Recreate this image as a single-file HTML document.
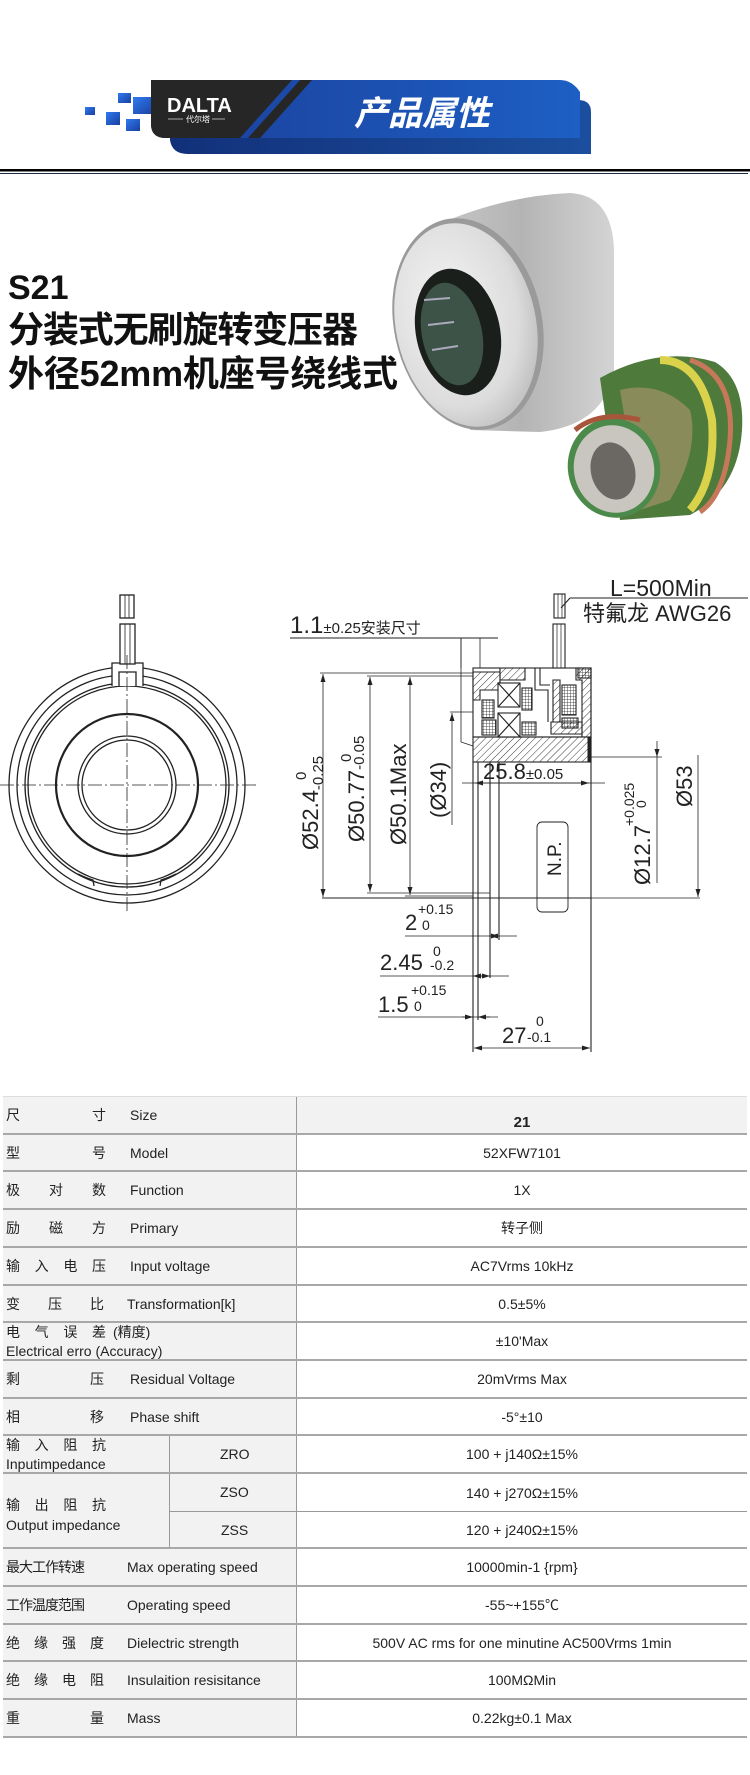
<!DOCTYPE html>
<html><head><meta charset="utf-8">
<style>
html,body{margin:0;padding:0;background:#fff;}
body{width:750px;height:1775px;position:relative;overflow:hidden;font-family:"Liberation Sans","Noto Sans CJK SC",sans-serif;}
.abs{position:absolute;}
.row{position:absolute;left:3px;width:744px;border-bottom:2px solid #a8a8a8;box-sizing:border-box;}
.lab{position:absolute;left:0;top:0;bottom:0;width:293px;background:#f2f2f2;border-right:1px solid #999;}
.val{position:absolute;left:294px;right:0;top:0;bottom:0;display:flex;align-items:center;justify-content:center;font-size:14px;color:#222;}
.t{position:absolute;font-size:14px;color:#222;white-space:nowrap;line-height:16px;}
.cj{position:absolute;left:3px;width:100px;display:flex;justify-content:space-between;font-size:14px;color:#222;line-height:16px;}
</style></head><body>
<svg class="abs" style="left:0;top:0" width="750" height="1090" viewBox="0 0 750 1090" xmlns="http://www.w3.org/2000/svg">
<defs>
<linearGradient id="bl" x1="0" x2="1"><stop offset="0" stop-color="#1b3f9a"/><stop offset="1" stop-color="#1d5fc4"/></linearGradient>
<linearGradient id="bl2" x1="0" x2="1"><stop offset="0" stop-color="#12307a"/><stop offset="1" stop-color="#1b4f9e"/></linearGradient>
<linearGradient id="sq" x1="0" x2="1" y1="0" y2="1"><stop offset="0" stop-color="#2f7bef"/><stop offset="1" stop-color="#1a3fa0"/></linearGradient>
<linearGradient id="silv" x1="0" x2="1" y1="0" y2="0"><stop offset="0" stop-color="#c8c8c8"/><stop offset="0.5" stop-color="#b4b4b4"/><stop offset="1" stop-color="#d4d4d4"/></linearGradient>
<radialGradient id="face" cx="0.4" cy="0.4" r="0.7"><stop offset="0" stop-color="#f4f4f4"/><stop offset="0.7" stop-color="#dcdcdc"/><stop offset="1" stop-color="#b8b8b8"/></radialGradient>
<pattern id="h" width="5" height="5" patternUnits="userSpaceOnUse" patternTransform="rotate(45)"><line x1="0" y1="0" x2="0" y2="5" stroke="#222" stroke-width="0.9"/></pattern>
<pattern id="x" width="3" height="3" patternUnits="userSpaceOnUse"><path d="M0 0H3M0 0V3" stroke="#222" stroke-width="0.8"/></pattern>
<marker id="a" markerWidth="8" markerHeight="6" refX="8" refY="3" orient="auto-start-reverse" markerUnits="userSpaceOnUse"><path d="M0,0.5 L8,3 L0,5.5z" fill="#222"/></marker>
</defs>
<!-- header -->
<rect x="85" y="107" width="10" height="8" fill="url(#sq)"/>
<rect x="106" y="112" width="14" height="13" fill="url(#sq)"/>
<rect x="118" y="93" width="13" height="10" fill="url(#sq)"/>
<rect x="126" y="119" width="14" height="12" fill="url(#sq)"/>
<rect x="133" y="97" width="22" height="17" fill="url(#sq)"/>
<path d="M170 100 H578 Q591 100 591 112 V154 H188 Q172 154 170 140Z" fill="url(#bl2)"/>
<path d="M151 80 H560 Q572 80 580 92 V138 H166 Q151 138 151 124Z" fill="url(#bl)"/>
<path d="M151 80 H285 L233 138 H166 Q151 138 151 124Z" fill="#262626"/>
<path d="M280 80 H292 L240 138 H228Z" fill="#262626"/>
<path d="M300 80 H312 L260 138 H248Z" fill="#262626"/>
<text x="167" y="112" fill="#fff" font-family="Liberation Sans" font-weight="bold" font-size="20">DALTA</text>
<line x1="168" y1="119" x2="183" y2="119" stroke="#ccc" stroke-width="0.8"/><line x1="212" y1="119" x2="225" y2="119" stroke="#ccc" stroke-width="0.8"/>
<text x="186" y="122" fill="#fff" font-family="Noto Sans CJK SC" font-size="8">代尔塔</text>
<text x="354" y="125" fill="#fff" font-family="Noto Sans CJK SC,sans-serif" font-weight="bold" font-style="italic" font-size="34">产品属性</text>
<rect x="0" y="169" width="750" height="2.5" fill="#000"/>
<rect x="0" y="173" width="748" height="1" fill="#1a2a44"/>
<!-- title -->
<text x="8" y="299" font-family="Liberation Sans,Noto Sans CJK SC,sans-serif" font-weight="bold" font-size="34" fill="#111">S21</text>
<text x="8" y="342" font-family="Noto Sans CJK SC,sans-serif" font-weight="bold" font-size="36" fill="#111" textLength="350">分装式无刷旋转变压器</text>
<text x="8" y="386" font-family="Liberation Sans,Noto Sans CJK SC,sans-serif" font-weight="bold" font-size="36" fill="#111" textLength="390">外径52mm机座号绕线式</text>
<!-- product photo -->
<path d="M430 228 Q500 196 570 193 Q612 195 614 250 L614 370 Q605 425 540 432 L470 430Z" fill="url(#silv)"/>
<ellipse cx="468" cy="324" rx="74" ry="107" transform="rotate(-12 468 324)" fill="#9a9a9a"/>
<ellipse cx="466" cy="325" rx="70" ry="103" transform="rotate(-12 466 325)" fill="url(#face)"/>
<ellipse cx="458" cy="332" rx="42" ry="64" transform="rotate(-12 458 332)" fill="#1a1f1c"/>
<ellipse cx="452" cy="334" rx="30" ry="52" transform="rotate(-12 452 334)" fill="#3d5348"/>
<g stroke="#aab" stroke-width="2"><line x1="424" y1="300" x2="450" y2="298"/><line x1="428" y1="325" x2="454" y2="322"/><line x1="432" y1="350" x2="458" y2="346"/></g>
<path d="M600 378 Q660 345 715 362 Q745 380 742 430 Q738 490 690 515 L620 520Z" fill="#4e7a3c"/>
<path d="M660 360 Q700 360 712 420 Q716 480 690 510" stroke="#d9d24a" stroke-width="8" fill="none"/>
<path d="M690 360 Q735 375 730 440 Q725 495 700 512" stroke="#c8785a" stroke-width="5" fill="none"/>
<path d="M620 390 Q660 380 690 410 Q700 450 670 500 L640 510 Z" fill="#8a8b5a"/>
<ellipse cx="614" cy="468" rx="46" ry="50" transform="rotate(-15 614 468)" fill="#4b8a4a"/>
<ellipse cx="614" cy="469" rx="40" ry="44" transform="rotate(-15 614 469)" fill="#c9c6c0"/>
<ellipse cx="613" cy="471" rx="22" ry="29" transform="rotate(-15 613 471)" fill="#6b6864"/>
<path d="M575 430 Q600 410 640 420" stroke="#a8553a" stroke-width="5" fill="none"/>
<!-- left drawing -->
<g fill="none" stroke="#222" stroke-width="1.3">
<circle cx="127" cy="785" r="118"/>
<circle cx="127" cy="785" r="110"/>
<circle cx="127" cy="785" r="102"/>
<circle cx="127" cy="785" r="99"/>
<circle cx="127" cy="785" r="71" stroke-width="2.2"/>
<circle cx="127" cy="785" r="49"/>
<circle cx="127" cy="785" r="45"/>
<path d="M112 686 V663 H143 V686" fill="#fff"/>
<path d="M119 686 V672 H136 V686" fill="#fff"/>
<rect x="120" y="624" width="15" height="40" fill="#fff"/>
<line x1="125" y1="624" x2="125" y2="664" stroke-width="0.8"/><line x1="130" y1="624" x2="130" y2="664" stroke-width="0.8"/>
<rect x="120" y="595" width="14" height="23" fill="#fff"/>
<line x1="125" y1="595" x2="125" y2="618" stroke-width="0.8"/><line x1="129" y1="595" x2="129" y2="618" stroke-width="0.8"/>
<path d="M78 874 Q86 878 93 880 L94 886"/><path d="M176 874 Q168 878 161 880 L160 886"/>
</g>
<g stroke="#222" stroke-width="0.8" stroke-dasharray="14 3 2 3"><line x1="0" y1="785" x2="258" y2="785"/><line x1="127" y1="655" x2="127" y2="912"/></g>
<!-- right drawing -->
<g fill="none" stroke="#222" stroke-width="1.1">
<rect x="473" y="668" width="118" height="69" fill="#fff"/>
<path d="M473 672 H500 V690 H480 V700 H473Z" fill="url(#h)"/>
<path d="M500 668 H525 V680 H500Z" fill="url(#h)"/>
<path d="M576 668 H591 V737 H582 V680 H576Z" fill="url(#h)"/>
<path d="M553 680 H560 V722 H553Z" fill="url(#h)"/>
<path d="M551 722 H582 V734 H551Z" fill="url(#h)"/>
<rect x="498" y="683" width="22" height="24" fill="#fff"/>
<path d="M498 683 L509 695 L520 683 M498 707 L509 695 L520 707"/>
<rect x="498" y="713" width="22" height="24" fill="#fff"/>
<path d="M498 713 L509 725 L520 713 M498 737 L509 725 L520 737"/>
<rect x="482" y="700" width="12" height="18" fill="url(#x)"/>
<rect x="482" y="720" width="14" height="15" fill="url(#x)"/>
<rect x="522" y="688" width="10" height="22" fill="url(#x)"/>
<rect x="522" y="722" width="14" height="13" fill="url(#x)"/>
<rect x="562" y="685" width="14" height="30" fill="url(#x)"/>
<rect x="562" y="718" width="16" height="10" fill="url(#x)"/>
<rect x="578" y="668" width="13" height="10" fill="url(#x)"/>
<path d="M535 668 V690 H548 V722"/><path d="M540 668 V685 H550"/>
<rect x="473" y="737" width="118" height="25" fill="url(#h)"/>
<line x1="589" y1="737" x2="589" y2="762" stroke-width="3"/>
<rect x="553" y="624" width="12" height="44" fill="#fff"/>
<line x1="557" y1="624" x2="557" y2="668" stroke-width="0.7"/><line x1="561" y1="624" x2="561" y2="668" stroke-width="0.7"/>
<rect x="554" y="594" width="11" height="24" fill="#fff"/>
<line x1="558" y1="594" x2="558" y2="618" stroke-width="0.7"/><line x1="562" y1="594" x2="562" y2="618" stroke-width="0.7"/>
<line x1="561" y1="608" x2="570" y2="598"/>
<line x1="570" y1="598" x2="748" y2="598"/>
<line x1="290" y1="638" x2="498" y2="638"/>
<line x1="461" y1="638" x2="461" y2="668" stroke-width="0.8"/>
<line x1="480" y1="638" x2="480" y2="668" stroke-width="0.8"/>
<path d="M461 638 V742 L473 746" stroke-width="0.8"/>
<line x1="320" y1="673" x2="473" y2="673" stroke-width="0.8"/>
<line x1="367" y1="676" x2="473" y2="676" stroke-width="0.8"/>
<line x1="322" y1="898" x2="591" y2="898"/>
<line x1="367" y1="893" x2="490" y2="893" stroke-width="0.8"/>
<line x1="405" y1="896" x2="473" y2="896" stroke-width="0.8"/>
<line x1="323" y1="674" x2="323" y2="897" marker-start="url(#a)" marker-end="url(#a)" stroke-width="0.8"/>
<line x1="370" y1="677" x2="370" y2="892" marker-start="url(#a)" marker-end="url(#a)" stroke-width="0.8"/>
<line x1="410" y1="677" x2="410" y2="895" marker-start="url(#a)" marker-end="url(#a)" stroke-width="0.8"/>
<line x1="450" y1="712" x2="473" y2="712" stroke-width="0.8"/>
<line x1="452" y1="713" x2="452" y2="825" marker-start="url(#a)" stroke-width="0.8"/>
<line x1="473" y1="762" x2="473" y2="1052"/>
<line x1="478" y1="762" x2="478" y2="1020"/>
<line x1="490" y1="762" x2="490" y2="978"/>
<line x1="499" y1="762" x2="499" y2="940"/>
<line x1="591" y1="737" x2="591" y2="1052"/>
<line x1="462" y1="783" x2="605" y2="783" stroke-width="0.8"/>
<line x1="475" y1="783" x2="589" y2="783" marker-start="url(#a)" marker-end="url(#a)" stroke-width="0.8"/>
<rect x="537" y="822" width="31" height="90" rx="5" fill="#fff" stroke-width="0.9"/>
<line x1="537" y1="898" x2="568" y2="898"/>
<line x1="591" y1="757" x2="662" y2="757" stroke-width="0.8"/>
<line x1="657" y1="741" x2="657" y2="757" marker-end="url(#a)" stroke-width="0.8"/>
<line x1="657" y1="757" x2="657" y2="883" stroke-width="0.8"/>
<line x1="698" y1="755" x2="698" y2="897" marker-end="url(#a)" stroke-width="0.8"/>
<line x1="591" y1="898" x2="700" y2="898" stroke-width="0.8"/>
<line x1="405" y1="936" x2="517" y2="936" stroke-width="0.8"/>
<line x1="490" y1="936" x2="499" y2="936" marker-start="url(#a)" marker-end="url(#a)" stroke-width="0.8"/>
<line x1="380" y1="976" x2="509" y2="976" stroke-width="0.8"/>
<line x1="473" y1="976" x2="490" y2="976" marker-start="url(#a)" marker-end="url(#a)" stroke-width="0.8"/>
<line x1="378" y1="1017" x2="498" y2="1017" stroke-width="0.8"/>
<line x1="462" y1="1017" x2="473" y2="1017" marker-end="url(#a)" stroke-width="0.8"/>
<line x1="478" y1="1017" x2="490" y2="1017" marker-start="url(#a)" stroke-width="0.8"/>
<line x1="474" y1="1048" x2="590" y2="1048" marker-start="url(#a)" marker-end="url(#a)" stroke-width="0.8"/>
</g>
<g font-family="Liberation Sans,Noto Sans CJK SC,sans-serif" fill="#222">
<text x="610" y="596" font-size="23">L=500Min</text>
<text x="583" y="621" font-size="22">特氟龙 AWG26</text>
<text x="290" y="633" font-size="24">1.1<tspan font-size="15">±0.25安装尺寸</tspan></text>
<text transform="translate(318 850) rotate(-90)" font-size="22">Ø52.4<tspan font-size="15" dy="5">-0.25</tspan></text>
<text transform="translate(306 780) rotate(-90)" font-size="15">0</text>
<text transform="translate(364 842) rotate(-90)" font-size="22">Ø50.77<tspan font-size="15">-0.05</tspan></text>
<text transform="translate(351 762) rotate(-90)" font-size="15">0</text>
<text transform="translate(406 845) rotate(-90)" font-size="22">Ø50.1Max</text>
<text transform="translate(446 818) rotate(-90)" font-size="22">(Ø34)</text>
<text x="483" y="779" font-size="22">25.8<tspan font-size="15">±0.05</tspan></text>
<text transform="translate(561 876) rotate(-90)" font-size="19">N.P.</text>
<text transform="translate(650 885) rotate(-90)" font-size="22">Ø12.7</text>
<text transform="translate(634 826) rotate(-90)" font-size="14">+0.025</text>
<text transform="translate(646 808) rotate(-90)" font-size="14">0</text>
<text transform="translate(692 807) rotate(-90)" font-size="22">Ø53</text>
<text x="405" y="930" font-size="22">2</text><text x="418" y="914" font-size="14">+0.15</text><text x="422" y="930" font-size="14">0</text>
<text x="380" y="970" font-size="22">2.45</text><text x="433" y="956" font-size="14">0</text><text x="430" y="970" font-size="14">-0.2</text>
<text x="378" y="1012" font-size="22">1.5</text><text x="411" y="995" font-size="14">+0.15</text><text x="414" y="1011" font-size="14">0</text>
<text x="502" y="1043" font-size="22">27</text><text x="536" y="1026" font-size="14">0</text><text x="527" y="1042" font-size="14">-0.1</text>
</g>
</svg>

<!-- table -->
<div class="abs" style="left:3px;top:1096px;width:744px;height:1px;background:#ddd"></div>
<div class="row" style="top:1097px;height:38px"><div class="lab"></div><div class="val" style="background:#f2f2f2;padding-top:14px;font-weight:bold;font-size:15px">21</div>
<div class="cj" style="top:10px"><span>尺</span><span>寸</span></div><span class="t" style="left:127px;top:10px">Size</span></div>
<div class="row" style="top:1135px;height:37px"><div class="lab"></div><div class="val">52XFW7101</div>
<div class="cj" style="top:10px"><span>型</span><span>号</span></div><span class="t" style="left:127px;top:10px">Model</span></div>
<div class="row" style="top:1172px;height:38px"><div class="lab"></div><div class="val">1X</div>
<div class="cj" style="top:10px"><span>极</span><span>对</span><span>数</span></div><span class="t" style="left:127px;top:10px">Function</span></div>
<div class="row" style="top:1210px;height:38px"><div class="lab"></div><div class="val">转子侧</div>
<div class="cj" style="top:10px"><span>励</span><span>磁</span><span>方</span></div><span class="t" style="left:127px;top:10px">Primary</span></div>
<div class="row" style="top:1248px;height:38px"><div class="lab"></div><div class="val">AC7Vrms 10kHz</div>
<div class="cj" style="top:10px"><span>输</span><span>入</span><span>电</span><span>压</span></div><span class="t" style="left:127px;top:10px">Input voltage</span></div>
<div class="row" style="top:1286px;height:37px"><div class="lab"></div><div class="val">0.5±5%</div>
<div class="cj" style="top:10px;width:98px"><span>变</span><span>压</span><span>比</span></div><span class="t" style="left:124px;top:10px">Transformation[k]</span></div>
<div class="row" style="top:1323px;height:38px"><div class="lab"></div><div class="val">±10'Max</div>
<div class="cj" style="top:1px"><span>电</span><span>气</span><span>误</span><span>差</span></div><span class="t" style="left:110px;top:1px">(精度)</span><span class="t" style="left:3px;top:20px">Electrical erro (Accuracy)</span></div>
<div class="row" style="top:1361px;height:38px"><div class="lab"></div><div class="val">20mVrms Max</div>
<div class="cj" style="top:10px;width:98px"><span>剩</span><span>压</span></div><span class="t" style="left:127px;top:10px">Residual Voltage</span></div>
<div class="row" style="top:1399px;height:37px"><div class="lab"></div><div class="val">-5°±10</div>
<div class="cj" style="top:10px;width:98px"><span>相</span><span>移</span></div><span class="t" style="left:127px;top:10px">Phase shift</span></div>
<div class="row" style="top:1436px;height:38px"><div class="lab"></div><div class="abs" style="left:166px;top:0;bottom:0;width:1px;background:#999"></div><div class="val">100 + j140Ω±15%</div>
<div class="cj" style="top:1px;width:100px"><span>输</span><span>入</span><span>阻</span><span>抗</span></div><span class="t" style="left:3px;top:20px">Inputimpedance</span><span class="t" style="left:217px;top:10px">ZRO</span></div>
<div class="row" style="top:1474px;height:38px;border-bottom:1px solid #999"><div class="lab"></div><div class="abs" style="left:166px;top:0;bottom:0;width:1px;background:#999"></div><div class="val">140 + j270Ω±15%</div><span class="t" style="left:217px;top:10px">ZSO</span></div>
<div class="row" style="top:1512px;height:37px"><div class="lab"></div><div class="abs" style="left:166px;top:0;bottom:0;width:1px;background:#999"></div><div class="val">120 + j240Ω±15%</div><span class="t" style="left:218px;top:10px">ZSS</span></div>
<div class="abs" style="left:3px;top:1474px;width:166px;height:73px;background:#f2f2f2;z-index:2">
<div class="cj" style="top:23px;left:3px;width:100px"><span>输</span><span>出</span><span>阻</span><span>抗</span></div><span class="t" style="left:3px;top:43px">Output impedance</span></div>
<div class="row" style="top:1549px;height:38px"><div class="lab"></div><div class="val">10000min-1 {rpm}</div>
<span class="t" style="left:3px;top:10px;letter-spacing:-1px">最大工作转速</span><span class="t" style="left:124px;top:10px">Max operating speed</span></div>
<div class="row" style="top:1587px;height:38px"><div class="lab"></div><div class="val">-55~+155℃</div>
<span class="t" style="left:3px;top:10px;letter-spacing:-1px">工作温度范围</span><span class="t" style="left:124px;top:10px">Operating speed</span></div>
<div class="row" style="top:1625px;height:37px"><div class="lab"></div><div class="val">500V AC rms for one minutine AC500Vrms 1min</div>
<div class="cj" style="top:10px;width:98px"><span>绝</span><span>缘</span><span>强</span><span>度</span></div><span class="t" style="left:124px;top:10px">Dielectric strength</span></div>
<div class="row" style="top:1662px;height:38px"><div class="lab"></div><div class="val">100MΩMin</div>
<div class="cj" style="top:10px;width:98px"><span>绝</span><span>缘</span><span>电</span><span>阻</span></div><span class="t" style="left:124px;top:10px">Insulaition resisitance</span></div>
<div class="row" style="top:1700px;height:38px"><div class="lab"></div><div class="val">0.22kg±0.1 Max</div>
<div class="cj" style="top:10px;width:98px"><span>重</span><span>量</span></div><span class="t" style="left:124px;top:10px">Mass</span></div>
</body></html>
